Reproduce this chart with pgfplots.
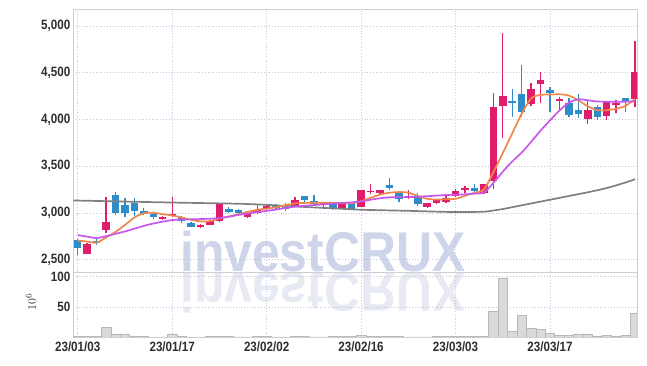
\documentclass[border=0pt]{standalone}
\usepackage{fontspec}
\setmainfont{Liberation Sans}
\usepackage{pgfplots}
\pgfplotsset{compat=1.18}
\definecolor{cred}{HTML}{E01C6C}
\definecolor{cblue}{HTML}{2E8DC8}
\definecolor{corange}{HTML}{F0874B}
\definecolor{cpurple}{HTML}{C857EC}
\definecolor{cgrey}{HTML}{808080}
\definecolor{gridc}{HTML}{C4C7DD}
\definecolor{framec}{HTML}{CFCFCF}
\definecolor{wm}{HTML}{CED4E9}
\definecolor{wm2}{HTML}{E8EAF3}
\definecolor{volf}{HTML}{DADADA}
\definecolor{vold}{HTML}{B8B8B8}
\definecolor{tickc}{HTML}{2E2E2E}
\pgfplotsset{
  base/.style={scale only axis, width=564pt, xmin=-0.466, xmax=59.24,
    axis line style={framec, line width=0.8pt},
    grid=major, major grid style={gridc, dash pattern=on 0.8pt off 2pt, line width=0.6pt},
    major tick length=0pt,
    tick label style={font=\fontsize{13.5}{14}\selectfont\bfseries, text=tickc, xscale=0.86},
    /pgf/number format/assume math mode=true,
    /pgf/number format/1000 sep={,},
    xtick={0,10,20,30,40,50},
    unbounded coords=jump, clip=true}
}
\begin{document}
\begin{tikzpicture}[x=1pt,y=1pt]
\useasboundingbox (0,0) rectangle (647,366);
% watermark
\node[anchor=base west, inner sep=0pt, text=wm, xscale=0.89, font=\fontsize{56}{56}\selectfont\bfseries] at (180,94.5) {investCRUX};
\begin{scope}
\clip (73.3,29) rectangle (637.3,93.7);
\node[anchor=base west, inner sep=0pt, text=wm2, xscale=0.89, yscale=-1, font=\fontsize{56}{56}\selectfont\bfseries] at (180,93) {investCRUX};
\end{scope}

\begin{axis}[base, at={(73.3pt,93.7pt)}, anchor=south west, height=262.8pt,
  ymin=2363, ymax=5177, ytick={2500,3000,3500,4000,4500,5000},
  xticklabels={,,,,,}]
% red wicks
\addplot[cred, line width=1.3pt] coordinates {
(1,2556)(1,2675)(1,nan) (3,2789)(3,3167)(3,nan) (9,2925)(9,2965)(9,nan) (10,2960)(10,3167)(10,nan)
(13,2840)(13,2885)(13,nan) (14,2865)(14,2925)(14,nan) (15,2905)(15,3109)(15,nan) (18,2945)(18,3013)(18,nan)
(19,2988)(19,3085)(19,nan) (20,3031)(20,3095)(20,nan) (23,3067)(23,3167)(23,nan) (26,3045)(26,3120)(26,nan)
(28,3049)(28,3120)(28,nan) (30,3060)(30,3245)(30,nan) (31,3200)(31,3310)(31,nan) (32,3195)(32,3245)(32,nan)
(35,3145)(35,3245)(35,nan) (37,3050)(37,3103)(37,nan) (38,3095)(38,3150)(38,nan) (39,3110)(39,3200)(39,nan)
(40,3170)(40,3260)(40,nan) (41,3210)(41,3285)(41,nan) (43,3200)(43,3306)(43,nan) (44,3253)(44,4286)(44,nan)
(45,3798)(45,4928)(45,nan) (48,4144)(48,4393)(48,nan) (49,4173)(49,4511)(49,nan) (51,4100)(51,4243)(51,nan)
(54,3951)(54,4208)(54,nan) (56,3994)(56,4194)(56,nan) (57,4065)(57,4208)(57,nan) (59,4130)(59,4843)
};
% red bodies
\addplot[cred, line width=7.5pt] coordinates {
(1,2564)(1,2667)(1,nan) (3,2817)(3,2903)(3,nan) (9,2938)(9,2953)(9,nan) (10,2967)(10,2988)(10,nan)
(13,2848)(13,2865)(13,nan) (14,2871)(14,2910)(14,nan) (15,2917)(15,3109)(15,nan) (18,2953)(18,2988)(18,nan)
(19,2996)(19,3031)(19,nan) (20,3049)(20,3074)(20,nan) (23,3074)(23,3138)(23,nan) (26,3088)(26,3109)(26,nan)
(28,3056)(28,3103)(28,nan) (30,3067)(30,3245)(30,nan) (31,3220)(31,3238)(31,nan) (32,3217)(32,3245)(32,nan)
(35,3163)(35,3181)(35,nan) (37,3060)(37,3103)(37,nan) (38,3103)(38,3138)(38,nan) (39,3120)(39,3163)(39,nan)
(40,3181)(40,3234)(40,nan) (41,3242)(41,3270)(41,nan) (43,3210)(43,3306)(43,nan) (44,3345)(44,4130)(44,nan)
(45,4144)(45,4251)(45,nan) (48,4165)(48,4323)(48,nan) (49,4379)(49,4422)(49,nan) (51,4201)(51,4222)(51,nan)
(54,4001)(54,4101)(54,nan) (56,4033)(56,4194)(56,nan) (57,4155)(57,4176)(57,nan) (59,4216)(59,4511)
};
% blue wicks
\addplot[cblue, line width=1.3pt] coordinates {
(0,2550)(0,2721)(0,nan) (2,2654)(2,2718)(2,nan) (4,2978)(4,3224)(4,nan) (5,2955)(5,3160)(5,nan)
(6,2967)(6,3155)(6,nan) (7,2978)(7,3056)(7,nan) (8,2938)(8,2996)(8,nan) (11,2896)(11,2967)(11,nan)
(12,2846)(12,2906)(12,nan) (16,3003)(16,3067)(16,nan) (17,2985)(17,3045)(17,nan) (21,3031)(21,3099)(21,nan)
(22,3024)(22,3109)(22,nan) (24,3099)(24,3181)(24,nan) (25,3085)(25,3192)(25,nan) (27,3031)(27,3120)(27,nan)
(29,3031)(29,3120)(29,nan) (33,3240)(33,3370)(33,nan) (34,3120)(34,3220)(34,nan) (36,3075)(36,3210)(36,nan)
(42,3225)(42,3305)(42,nan) (46,4023)(46,4323)(46,nan) (47,4030)(47,4583)(47,nan) (50,4083)(50,4351)(50,nan)
(52,4023)(52,4226)(52,nan) (53,4012)(53,4272)(53,nan) (55,3994)(55,4154)(55,nan) (58,4083)(58,4229)
};
% blue bodies
\addplot[cblue, line width=7.5pt] coordinates {
(0,2621)(0,2710)(0,nan) (2,2681)(2,2703)(2,nan) (4,2996)(4,3192)(4,nan) (5,2996)(5,3085)(5,nan)
(6,3020)(6,3109)(6,nan) (7,2988)(7,3020)(7,nan) (8,2953)(8,2988)(8,nan) (11,2910)(11,2953)(11,nan)
(12,2853)(12,2896)(12,nan) (16,3013)(16,3045)(16,nan) (17,2996)(17,3031)(17,nan) (21,3052)(21,3077)(21,nan)
(22,3038)(22,3067)(22,nan) (24,3138)(24,3181)(24,nan) (25,3092)(25,3128)(25,nan) (27,3038)(27,3109)(27,nan)
(29,3038)(29,3109)(29,nan) (33,3270)(33,3299)(33,nan) (34,3149)(34,3210)(34,nan) (36,3095)(36,3181)(36,nan)
(42,3234)(42,3270)(42,nan) (46,4179)(46,4201)(46,nan) (47,4083)(47,4272)(47,nan) (50,4286)(50,4315)(50,nan)
(52,4048)(52,4179)(52,nan) (53,4058)(53,4101)(53,nan) (55,4030)(55,4130)(55,nan) (58,4187)(58,4229)
};
% long moving average
\addplot[cgrey, line width=1.7pt, smooth] coordinates {
(-0.5,3131)(0,3131)(10,3110)(17,3097)(20,3085)(23,3068)(27,3048)(30,3033)(35,3021)(40,3008)(43,3012)
(44,3025)(45,3040)(46,3060)(47,3080)(48,3100)(50,3140)(52,3180)(54,3220)(56,3265)(58,3325)(59,3360)
};
% 5-day moving average
\addplot[corange, line width=1.7pt, smooth] coordinates {
(0,2703)(1,2692)(2,2681)(3,2735)(4,2795)(5,2870)(6,2950)(7,2995)(8,3000)(9,2985)(10,2972)(11,2950)
(12,2925)(13,2908)(14,2910)(15,2940)(16,2960)(17,2985)(18,3010)(19,3032)(20,3045)(21,3060)(22,3082)
(23,3100)(24,3106)(25,3108)(26,3108)(27,3106)(28,3103)(29,3103)(30,3125)(31,3160)(32,3195)(33,3215)
(34,3222)(35,3216)(36,3180)(37,3150)(38,3142)(39,3145)(40,3150)(41,3182)(42,3215)(43,3250)(44,3435)
(45,3640)(46,3850)(47,4060)(48,4225)(49,4262)(50,4266)(51,4269)(52,4255)(53,4205)(54,4140)(55,4100)
(56,4098)(57,4115)(58,4145)(59,4220)
};
% 10-day moving average
\addplot[cpurple, line width=1.7pt, smooth] coordinates {
(0,2762)(1,2745)(2,2730)(3,2750)(4,2775)(5,2800)(6,2830)(7,2860)(8,2885)(9,2905)(10,2922)(11,2928)
(12,2930)(13,2933)(14,2937)(15,2942)(16,2958)(17,2977)(18,2992)(19,3008)(20,3020)(21,3035)(22,3052)
(23,3066)(24,3075)(25,3083)(26,3090)(27,3098)(28,3105)(29,3112)(30,3122)(31,3140)(32,3155)(33,3166)
(34,3168)(35,3168)(36,3172)(37,3178)(38,3184)(39,3190)(40,3194)(41,3198)(42,3205)(43,3218)(44,3320)
(45,3440)(46,3550)(47,3645)(48,3760)(49,3880)(50,3990)(51,4095)(52,4180)(53,4215)(54,4205)(55,4192)
(56,4190)(57,4190)(58,4190)(59,4192)
};
\end{axis}

\begin{axis}[base, at={(73.3pt,29pt)}, anchor=south west, height=64.7pt,
  ymin=0, ymax=107.3, ytick={50,100},
  xticklabels={23/01/03,23/01/17,23/02/02,23/02/16,23/03/03,23/03/17},
  xticklabel style={yshift=-1.5pt}]
\addplot[ybar, bar width=9.45pt, bar shift=0pt, fill=volf, draw=vold, line width=0.5pt] coordinates {
(0,0.5)(1,0.5)(2,0.6)(3,16)(4,5)(5,5)(6,1.7)(7,0.5)(8,0.4)(9,0.4)(10,5)(11,0.5)(12,0.4)(13,0.4)
(14,0.5)(15,1.5)(16,0.5)(17,0.4)(18,0.4)(19,1.5)(20,0.5)(21,0.4)(22,0.4)(23,1.5)(24,0.5)(25,0.4)
(26,0.4)(27,0.5)(28,0.5)(29,0.6)(30,3)(31,1.2)(32,1.2)(33,1.2)(34,0.5)(35,0.4)(36,0.4)(37,0.4)
(38,0.5)(39,0.6)(40,1.2)(41,0.5)(42,0.5)(43,0.8)(44,43)(45,98)(46,9.5)(47,36)(48,14.5)(49,12.8)
(50,6.7)(51,3.3)(52,3.3)(53,5)(54,5)(55,1.7)(56,3.3)(57,1.7)(58,3.3)(59,39.5)
};
\end{axis}
\node[rotate=90, inner sep=0pt, text=tickc, font=\fontsize{13}{13}\selectfont] at (31,64) {$10^6$};
\end{tikzpicture}
\end{document}
